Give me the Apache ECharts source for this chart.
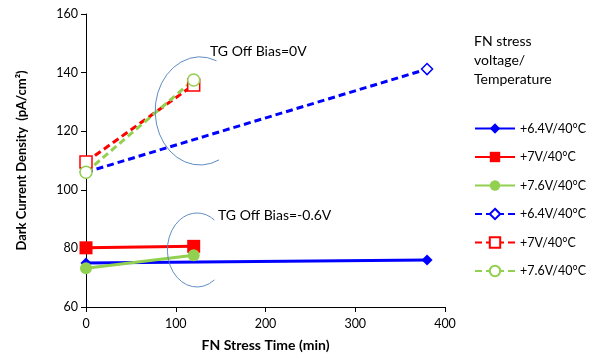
<!DOCTYPE html>
<html><head><meta charset="utf-8">
<script src="https://cdn.jsdelivr.net/npm/echarts@6/dist/echarts.min.js"></script>
<style>html,body{margin:0;padding:0;background:#fff}#c{width:597px;height:363px}</style>
</head><body><div id="c"></div>
<script>
const seriesNames = ['+6.4V/40°C','+7V/40°C','+7.6V/40°C','+6.4V/40°C ','+7V/40°C ','+7.6V/40°C '];
const times64 = [0, 380];
const times7 = [0, 120];
const times76 = [0, 120];
const solid64 = [75, 76];
const solid7 = [80.2, 80.7];
const solid76 = [73.2, 77.7];
const dash64 = [106, 141.2];
const dash7 = [109.5, 135.8];
const dash76 = [106, 137.5];
const xTicks = [0, 100, 200, 300, 400];
const yTicks = [60, 80, 100, 120, 140, 160];

const pairs = (xs, ys) => xs.map((x, i) => [x, ys[i]]);
const FONT = 'Lato';
const blue = '#0000ff', red = '#ff0000', green = '#92d050';

function solid(name, color, symbol, size, xs, ys) {
  return { name, type: 'line', data: pairs(xs, ys), symbol, symbolSize: size,
    lineStyle: { color, width: 3 }, itemStyle: { color }, z: 3 };
}
function dashed(name, color, symbol, size, xs, ys) {
  return { name, type: 'line', data: pairs(xs, ys), symbol, symbolSize: size,
    lineStyle: { color, width: 3, type: [7, 4] },
    itemStyle: { color: '#fff', borderColor: color, borderWidth: 1.5 }, z: 3 };
}

const chart = echarts.init(document.getElementById('c'));
chart.setOption({
  animation: false,
  textStyle: { fontFamily: FONT },
  grid: { left: 86, right: 152, top: 14, bottom: 56 },
  xAxis: { type: 'value', min: xTicks[0], max: xTicks[xTicks.length - 1], interval: 100,
    name: 'FN Stress Time (min)', nameLocation: 'middle', nameGap: 31,
    nameTextStyle: { fontWeight: 'bold', fontSize: 14, color: '#000', fontFamily: FONT },
    axisLine: { lineStyle: { color: '#000', width: 1 } },
    axisTick: { show: true, inside: false, length: 5, lineStyle: { color: '#000' } },
    axisLabel: { color: '#000', fontSize: 12.5, margin: 10, fontFamily: FONT },
    splitLine: { show: false } },
  yAxis: { type: 'value', min: yTicks[0], max: yTicks[yTicks.length - 1], interval: 20,
    name: 'Dark Current Density  (pA/cm²)', nameLocation: 'middle', nameGap: 58,
    nameTextStyle: { fontWeight: 'bold', fontSize: 13, color: '#000', fontFamily: FONT },
    axisLine: { show: true, lineStyle: { color: '#000', width: 1 } },
    axisTick: { show: true, length: 5, lineStyle: { color: '#000' } },
    axisLabel: { color: '#000', fontSize: 12.5, margin: 8, fontFamily: FONT },
    splitLine: { show: false } },
  legend: { orient: 'vertical', left: 469, top: 117, itemGap: 15.5, itemWidth: 40, itemHeight: 13,
    textStyle: { fontSize: 12.5, color: '#000', fontFamily: FONT },
    data: seriesNames },
  graphic: [
    { type: 'text', left: 474, top: 32, style: { text: 'FN stress\nvoltage/\nTemperature', font: '14px Lato', fill: '#000', lineHeight: 19 } },
    { type: 'text', left: 210, top: 44, style: { text: 'TG Off Bias=0V', font: '14px Lato', fill: '#000' } },
    { type: 'text', left: 218, top: 208, style: { text: 'TG Off Bias=-0.6V', font: '14px Lato', fill: '#000' } },
    { type: 'arc', x: 200, y: 111, scaleX: 0.83, shape: { cx: 0, cy: 0, r: 54, startAngle: Math.PI * 0.36, endAngle: Math.PI * 1.62 },
      style: { stroke: '#4f81bd', lineWidth: 1, fill: null }, z: 10 },
    { type: 'arc', x: 197, y: 250, scaleX: 0.8, shape: { cx: 0, cy: 0, r: 37, startAngle: Math.PI * 0.3, endAngle: Math.PI * 1.7 },
      style: { stroke: '#4f81bd', lineWidth: 1, fill: null }, z: 10 }
  ],
  series: [
    solid(seriesNames[0], blue, 'diamond', 11, times64, solid64),
    solid(seriesNames[1], red, 'rect', 13, times7, solid7),
    solid(seriesNames[2], green, 'circle', 12, times76, solid76),
    dashed(seriesNames[3], blue, 'diamond', 11, times64, dash64),
    dashed(seriesNames[4], red, 'rect', 12, times7, dash7),
    dashed(seriesNames[5], green, 'circle', 12, times76, dash76)
  ]
});
</script></body></html>
